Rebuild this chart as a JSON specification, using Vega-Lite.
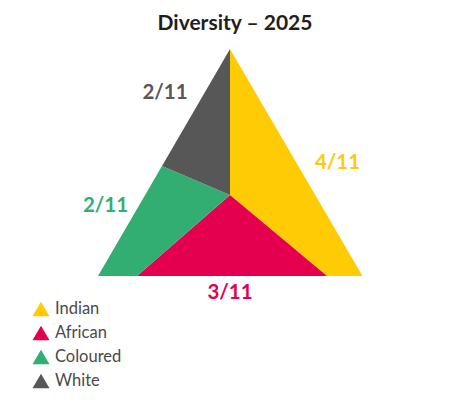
{
  "$schema": "https://vega.github.io/schema/vega-lite/v6.json",
  "width": 470,
  "height": 365,
  "autosize": "none",
  "padding": {"left": 0, "right": 0, "top": 40, "bottom": 0},
  "background": "white",
  "title": {
    "text": "Diversity – 2025",
    "font": "Lato",
    "fontSize": 21,
    "fontWeight": "bold",
    "color": "#1e1e1e",
    "anchor": "middle",
    "offset": 6
  },
  "config": {"view": {"stroke": null}},
  "layer": [
    {
      "data": {
        "values": [
          {"group": "Indian", "ord": 1, "x": 0, "y": 227},
          {"group": "Indian", "ord": 2, "x": 132.5, "y": 0},
          {"group": "Indian", "ord": 3, "x": 97, "y": 0},
          {"group": "Indian", "ord": 4, "x": 0, "y": 81},
          {"group": "African", "ord": 1, "x": 0, "y": 81},
          {"group": "African", "ord": 2, "x": 97, "y": 0},
          {"group": "African", "ord": 3, "x": -93, "y": 0},
          {"group": "Coloured", "ord": 1, "x": -68, "y": 110},
          {"group": "Coloured", "ord": 2, "x": 0, "y": 81},
          {"group": "Coloured", "ord": 3, "x": -93, "y": 0},
          {"group": "Coloured", "ord": 4, "x": -132, "y": 0},
          {"group": "White", "ord": 1, "x": 0, "y": 227},
          {"group": "White", "ord": 2, "x": 0, "y": 81},
          {"group": "White", "ord": 3, "x": -68, "y": 110}
        ]
      },
      "mark": {"type": "line", "filled": true, "interpolate": "linear-closed", "strokeWidth": 0},
      "encoding": {
        "x": {"field": "x", "type": "quantitative", "scale": {"domain": [-230, 240], "nice": false, "zero": false}, "axis": null},
        "y": {"field": "y", "type": "quantitative", "scale": {"domain": [-129, 236], "nice": false, "zero": false}, "axis": null},
        "order": {"field": "ord"},
        "color": {
          "field": "group",
          "type": "nominal",
          "scale": {"domain": ["Indian", "African", "Coloured", "White"], "range": ["#FFCB05", "#E5004F", "#32AE72", "#575757"]},
          "legend": {
            "title": null,
            "orient": "none",
            "legendX": 32,
            "legendY": 260,
            "symbolType": "triangle-up",
            "symbolSize": 290,
            "symbolStrokeWidth": 0,
            "labelFont": "Lato",
            "labelFontSize": 16.5,
            "labelColor": "#4a4a4a",
            "labelOffset": 5,
            "rowPadding": 6
          }
        }
      }
    },
    {
      "data": {
        "values": [
          {"group": "White", "label": "2/11", "x": -65, "y": 183},
          {"group": "Indian", "label": "4/11", "x": 107.5, "y": 113},
          {"group": "Coloured", "label": "2/11", "x": -124.5, "y": 70},
          {"group": "African", "label": "3/11", "x": 0, "y": -17}
        ]
      },
      "mark": {"type": "text", "font": "Lato", "fontSize": 20.5, "fontWeight": "bold", "baseline": "middle", "align": "center"},
      "encoding": {
        "x": {"field": "x", "type": "quantitative"},
        "y": {"field": "y", "type": "quantitative"},
        "text": {"field": "label"},
        "color": {"field": "group", "type": "nominal", "legend": null}
      }
    }
  ]
}
